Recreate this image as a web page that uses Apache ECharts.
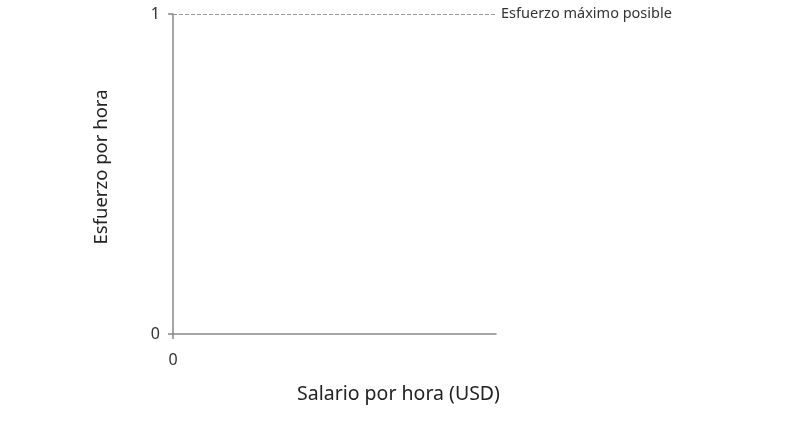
<!DOCTYPE html>
<html>
<head>
<meta charset="utf-8">
<script src="https://cdn.jsdelivr.net/npm/echarts@6/dist/echarts.min.js"></script>
<style>
  html, body { margin: 0; padding: 0; background: #fff; }
  #chart { width: 809px; height: 428px; }
</style>
</head>
<body>
<div id="chart"></div>
<script>
// datos del gráfico
const xTicks = [0];
const yTicks = [0, 1];
const xRange = [0, 10];
const maxEffort = 1;
const maxEffortLabel = 'Esfuerzo máximo posible';
const xName = 'Salario por hora (USD)';
const yName = 'Esfuerzo por hora';

const chart = echarts.init(document.getElementById('chart'));
const font = '"Noto Sans", sans-serif';

const option = {
  animation: false,
  grid: { left: 173, right: 313, top: 14, bottom: 94 },
  xAxis: {
    type: 'value',
    min: xRange[0],
    max: xRange[1],
    name: xName,
    nameLocation: 'middle',
    nameGap: 50,
    nameTextStyle: { fontFamily: font, fontSize: 19.5, color: '#222', padding: [0, 0, 0, 128] },
    splitLine: { show: false },
    axisLine: { lineStyle: { color: '#888', width: 1.5 } },
    axisTick: { show: true, customValues: xTicks, length: 5, lineStyle: { color: '#888', width: 1.5 } },
    axisLabel: { customValues: xTicks, margin: 18, fontFamily: font, fontSize: 16, color: '#333' }
  },
  yAxis: {
    type: 'value',
    min: yTicks[0],
    max: yTicks[yTicks.length - 1],
    name: yName,
    nameLocation: 'middle',
    nameGap: 62,
    nameTextStyle: { fontFamily: font, fontSize: 18.5, color: '#222', padding: [0, 0, 0, 14] },
    splitLine: { show: false },
    axisLine: { show: true, lineStyle: { color: '#888', width: 1.5 } },
    axisTick: { show: true, customValues: yTicks, length: 5, lineStyle: { color: '#888', width: 1.5 } },
    axisLabel: { customValues: yTicks, margin: 13, fontFamily: font, fontSize: 16, color: '#333' }
  },
  series: [
    {
      type: 'line',
      data: [],
      symbol: 'none',
      markLine: {
        silent: true,
        symbol: ['none', 'none'],
        lineStyle: { type: [4, 2], color: '#999', width: 1 },
        label: {
          position: 'end',
          formatter: maxEffortLabel,
          distance: 5,
          fontFamily: font,
          fontSize: 14.5,
          color: '#333'
        },
        data: [{ yAxis: maxEffort }]
      }
    }
  ]
};

chart.setOption(option);
</script>
</body>
</html>
